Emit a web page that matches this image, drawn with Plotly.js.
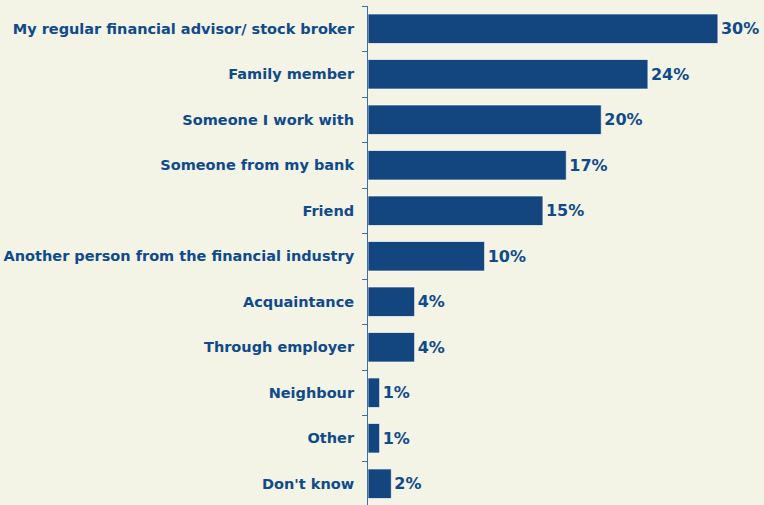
<!DOCTYPE html>
<html><head><meta charset="utf-8">
<script src="https://cdn.plot.ly/plotly-3.0.1.min.js"></script>
<style>html,body{margin:0;padding:0;background:#f3f3e6;}#chart{width:764px;height:505px;}</style>
</head><body><div id="chart"></div>
<script>
const categories = ["My regular financial advisor/ stock broker","Family member","Someone I work with","Someone from my bank","Friend","Another person from the financial industry","Acquaintance","Through employer","Neighbour","Other","Don't know"];
const values = [30,24,20,17,15,10,4,4,1,1,2];
const labels = ["30%","24%","20%","17%","15%","10%","4%","4%","1%","1%","2%"];

const trace = {
  type: 'bar', orientation: 'h',
  x: values, y: categories,
  text: labels, textposition: 'outside', cliponaxis: false,
  textfont: {family: 'DejaVu Sans', size: 16, color: '#0f4a8a', weight: 'bold'},
  marker: {color: '#13457f', line: {color: 'rgba(255,255,255,0.7)', width: 1}},
  width: 0.65, hoverinfo: 'none'
};
const layout = {
  width: 764, height: 505,
  margin: {l: 368, r: 0, t: 6, b: 0, pad: 0},
  paper_bgcolor: '#f3f3e6', plot_bgcolor: '#f3f3e6',
  showlegend: false,
  font: {family: 'DejaVu Sans', color: '#0f4a8a'},
  xaxis: {range: [0, 33.95], visible: false, fixedrange: true},
  yaxis: {
    type: 'category', categoryorder: 'array', categoryarray: categories,
    range: [-0.5 + 499/45.5, -0.5],
    showline: true, linecolor: '#3f6ea6', linewidth: 1,
    ticks: 'outside', tickson: 'boundaries', ticklen: 5, tickcolor: '#3f6ea6',
    showgrid: false, zeroline: false,
    tickfont: {family: 'DejaVu Sans', size: 14.5, color: '#0f4a8a', weight: 'bold'},
    ticklabelstandoff: 10
  }
};
Plotly.newPlot('chart', [trace], layout, {staticPlot: true});
</script></body></html>
